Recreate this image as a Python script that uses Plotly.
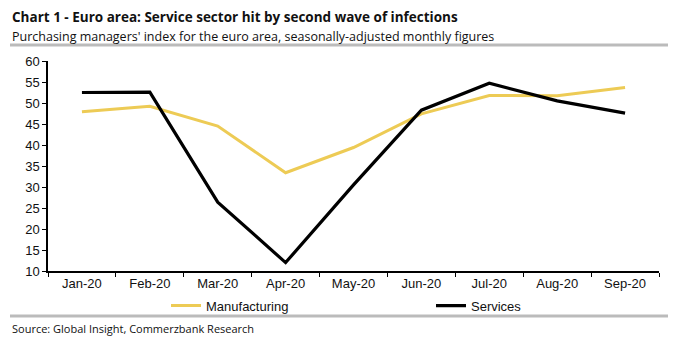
import plotly.graph_objects as go

months = ["Jan-20", "Feb-20", "Mar-20", "Apr-20", "May-20", "Jun-20", "Jul-20", "Aug-20", "Sep-20"]
manufacturing = [47.9, 49.2, 44.5, 33.4, 39.4, 47.4, 51.8, 51.7, 53.7]
services = [52.5, 52.6, 26.4, 12.0, 30.5, 48.3, 54.7, 50.5, 47.6]
y_ticks = [10, 15, 20, 25, 30, 35, 40, 45, 50, 55, 60]

fig = go.Figure()
fig.add_trace(go.Scatter(x=months, y=manufacturing, mode="lines", name="Manufacturing",
                         line=dict(color="#EDCB55", width=3), legend="legend"))
fig.add_trace(go.Scatter(x=months, y=services, mode="lines", name="Services",
                         line=dict(color="#000000", width=3.2), legend="legend2"))

leg_common = dict(orientation="h", xanchor="left", y=-0.165, yanchor="middle",
                  font=dict(size=13), bgcolor="rgba(0,0,0,0)")

fig.update_layout(
    width=679, height=342,
    margin=dict(l=48, r=20, t=61, b=71),
    paper_bgcolor="white", plot_bgcolor="white",
    font=dict(family="Liberation Sans, Arial, sans-serif", size=13, color="#111"),
    showlegend=True,
    legend=dict(x=(166 - 48) / 611, **leg_common),
    legend2=dict(x=(431 - 48) / 611, **leg_common),
    xaxis=dict(type="category", range=[-0.5, 8.5], tickson="boundaries",
               ticks="outside", ticklen=4, tickcolor="#000", showline=True,
               linecolor="#000", linewidth=1.5, showgrid=False, zeroline=False,
               tickfont=dict(size=13)),
    yaxis=dict(range=[10, 60], tickvals=y_ticks, ticks="outside", ticklen=4,
               tickcolor="#000", showline=True, linecolor="#000", linewidth=1.5,
               showgrid=False, zeroline=False, tickfont=dict(size=13)),
)

fig.add_annotation(text="<b>Chart 1 - Euro area: Service sector hit by second wave of infections</b>",
                   xref="paper", yref="paper", x=-48/611, y=1 + (61 - 17) / 210,
                   xanchor="left", yanchor="middle", showarrow=False,
                   font=dict(family="Open Sans, sans-serif", size=13.5, color="#111"), xshift=10)
fig.add_annotation(text="Purchasing managers' index for the euro area, seasonally-adjusted monthly figures",
                   xref="paper", yref="paper", x=-48/611, y=1 + (61 - 36) / 210,
                   xanchor="left", yanchor="middle", showarrow=False,
                   font=dict(family="Open Sans, sans-serif", size=12.5, color="#111"), xshift=10)
fig.add_annotation(text="Source: Global Insight, Commerzbank Research",
                   xref="paper", yref="paper", x=-48/611, y=(271 - 328) / 210,
                   xanchor="left", yanchor="middle", showarrow=False,
                   font=dict(family="Open Sans, sans-serif", size=11, color="#111"), xshift=10)

fig.add_shape(type="line", xref="paper", yref="paper",
              x0=(10 - 48) / 611, x1=(668 - 48) / 611,
              y0=1 + (61 - 45) / 210, y1=1 + (61 - 45) / 210,
              line=dict(color="#BBBBBB", width=3))
fig.add_shape(type="line", xref="paper", yref="paper",
              x0=(10 - 48) / 611, x1=(668 - 48) / 611,
              y0=(271 - 316) / 210, y1=(271 - 316) / 210,
              line=dict(color="#BBBBBB", width=3))

fig.write_html("out.html")
